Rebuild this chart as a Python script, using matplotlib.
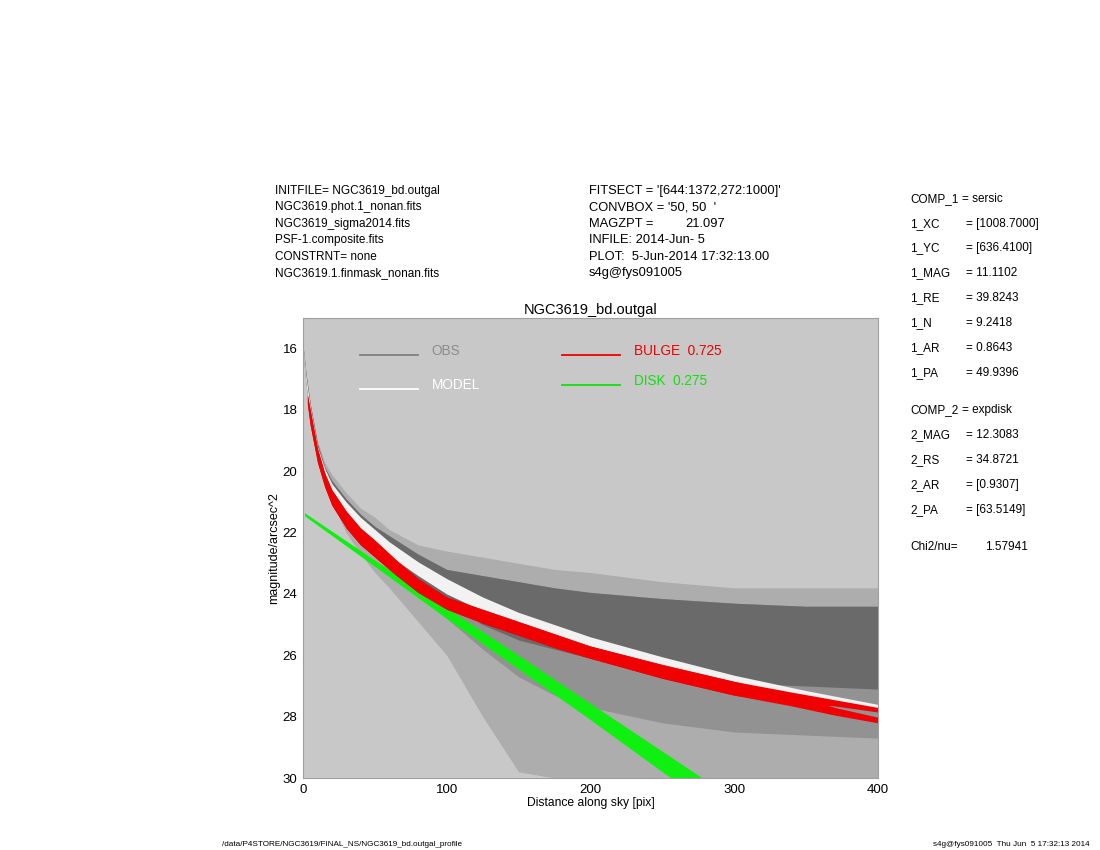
import matplotlib
matplotlib.use("Agg")
import matplotlib.pyplot as plt

plt.rcParams['font.family'] = ['Liberation Sans', 'DejaVu Sans']

# radial samples (pix, mag/arcsec^2)
obs_r = [0, 2, 5, 10, 15, 20, 30, 40, 50, 60, 80, 100, 125, 150, 175, 200, 250, 300, 350, 400]
obs_sparse_hi = [15.9, 16.8, 17.8, 19.0, 19.7, 20.1, 20.7, 21.2, 21.5, 21.9, 22.4, 22.6, 22.8, 23.0, 23.2, 23.3, 23.6, 23.8, 23.8, 23.8]
obs_sparse_lo = [16.1, 17.1, 18.2, 19.5, 20.3, 21.0, 22.0, 22.7, 23.3, 23.8, 24.9, 26.0, 28.0, 29.8, 30.0, 30.0, 30.0, 30.0, 30.0, 30.0]
obs_mid_lo = [16.1, 17.1, 18.2, 19.5, 20.2, 20.8, 21.6, 22.2, 22.7, 23.1, 24.0, 24.8, 25.8, 26.7, 27.3, 27.7, 28.2, 28.5, 28.6, 28.7]
obs_core_hi = [15.9, 16.8, 17.8, 19.1, 19.85, 20.3, 20.9, 21.4, 21.8, 22.1, 22.7, 23.2, 23.4, 23.6, 23.8, 23.95, 24.15, 24.3, 24.4, 24.4]
obs_core_lo = [16.1, 17.1, 18.2, 19.5, 20.2, 20.7, 21.5, 22.0, 22.5, 22.9, 23.6, 24.3, 25.0, 25.5, 25.8, 26.1, 26.5, 26.9, 27.0, 27.1]

model_hi = [15.95, 16.9, 17.9, 19.2, 19.9, 20.4, 21.0, 21.5, 21.9, 22.3, 22.95, 23.5, 24.1, 24.6, 25.0, 25.4, 26.05, 26.65, 27.15, 27.6]
model_lo = [16.1, 17.1, 18.2, 19.5, 20.2, 20.7, 21.4, 21.9, 22.35, 22.75, 23.4, 24.0, 24.55, 25.0, 25.4, 25.7, 26.35, 26.95, 27.4, 27.8]

bulge_r = [3, 5, 10, 15, 20, 30, 40, 50, 65, 80, 100, 125, 150, 175, 200, 250, 300, 340, 370, 400]
bulge_hi = [17.5, 18.0, 19.25, 20.05, 20.6, 21.3, 21.85, 22.25, 22.9, 23.5, 24.1, 24.5, 24.9, 25.3, 25.7, 26.3, 26.85, 27.2, 27.45, 27.7]
bulge_split_a = [17.8, 18.5, 19.7, 20.5, 21.1, 21.85, 22.4, 22.8, 23.4, 23.95, 24.5, 24.95, 25.35, 25.75, 26.1, 26.75, 27.3, 27.55, 27.65, 27.85]
bulge_split_b = [17.5, 18.0, 19.25, 20.05, 20.6, 21.3, 21.85, 22.25, 22.9, 23.5, 24.1, 24.5, 24.9, 25.3, 25.7, 26.3, 26.85, 27.3, 27.7, 28.02]
bulge_lo = [17.8, 18.5, 19.7, 20.5, 21.1, 21.85, 22.4, 22.8, 23.4, 23.95, 24.5, 24.95, 25.35, 25.75, 26.1, 26.75, 27.3, 27.65, 27.95, 28.2]

disk_r = [1, 50, 100, 150, 200, 250, 300]
disk_hi = [21.35, 22.9, 24.45, 26.0, 27.57, 29.13, 30.7]
disk_lo = [21.45, 23.1, 24.8, 26.45, 28.1, 29.8, 31.4]

header_left = ["INITFILE= NGC3619_bd.outgal", "NGC3619.phot.1_nonan.fits", "NGC3619_sigma2014.fits",
               "PSF-1.composite.fits", "CONSTRNT= none", "NGC3619.1.finmask_nonan.fits"]
header_mid = ["FITSECT = '[644:1372,272:1000]'", "CONVBOX = '50, 50  '", "MAGZPT =",
              "INFILE: 2014-Jun- 5", "PLOT:  5-Jun-2014 17:32:13.00", "s4g@fys091005"]
magzpt = "21.097"
comp_names = ["COMP_1", "1_XC", "1_YC", "1_MAG", "1_RE", "1_N", "1_AR", "1_PA",
              "COMP_2", "2_MAG", "2_RS", "2_AR", "2_PA"]
comp_values = ["= sersic", "= [1008.7000]", "= [636.4100]", "= 11.1102", "= 39.8243", "= 9.2418",
               "= 0.8643", "= 49.9396", "= expdisk", "= 12.3083", "= 34.8721", "= [0.9307]", "= [63.5149]"]
chi2nu = "1.57941"

fig = plt.figure(figsize=(11, 8.5), dpi=100)
ax = fig.add_axes([0.2755, 0.0847, 0.5227, 0.5412])
ax.set_facecolor('#c8c8c8')

# observed profile cloud
ax.fill_between(obs_r, obs_sparse_hi, obs_sparse_lo, color='#adadad', lw=0)
ax.fill_between(obs_r, obs_core_hi, obs_mid_lo, color='#929292', lw=0)
ax.fill_between(obs_r, obs_core_hi, obs_core_lo, color='#6a6a6a', lw=0)
# model
ax.fill_between(obs_r, model_hi, model_lo, color='#f2f2f2', lw=0)
# components
ax.fill_between(disk_r, disk_hi, disk_lo, color='#10f010', lw=0)
ax.fill_between(bulge_r, bulge_hi, bulge_split_a, color='#f00000', lw=0)
ax.fill_between(bulge_r, bulge_split_b, bulge_lo, color='#f00000', lw=0)

ax.set_xlim(0, 400)
ax.set_ylim(30, 15)
ax.set_xticks([0, 100, 200, 300, 400])
ax.set_yticks([16, 18, 20, 22, 24, 26, 28, 30])
ax.tick_params(length=0, labelsize=9.5, pad=4)
for s in ax.spines.values():
    s.set_color('#a0a0a0')
    s.set_linewidth(0.8)
ax.set_xlabel("Distance along sky [pix]", fontsize=8.7, labelpad=1)
ax.set_ylabel("magnitude/arcsec^2", fontsize=9, labelpad=2)
ax.set_title("NGC3619_bd.outgal", fontsize=10.5, pad=3)

# legend drawn inside the plot
tr = ax.transAxes
ax.plot([0.099, 0.20], [0.920, 0.920], color='#7f7f7f', lw=1.3, transform=tr)
ax.text(0.224, 0.928, "OBS", color='#8c8c8c', fontsize=9.8, va='center', transform=tr)
ax.plot([0.099, 0.20], [0.846, 0.846], color='white', lw=1.3, transform=tr)
ax.text(0.224, 0.854, "MODEL", color='white', fontsize=9.8, va='center', transform=tr)
ax.plot([0.45, 0.551], [0.920, 0.920], color='#f00000', lw=1.3, transform=tr)
ax.text(0.576, 0.928, "BULGE  0.725", color='#f00000', fontsize=9.8, va='center', transform=tr)
ax.plot([0.45, 0.551], [0.854, 0.854], color='#10e010', lw=1.3, transform=tr)
ax.text(0.576, 0.862, "DISK  0.275", color='#10e010', fontsize=9.8, va='center', transform=tr)

# header text blocks
for i, t in enumerate(header_left):
    fig.text(275 / 1100, 1 - (191 + i * 16.4) / 850, t, fontsize=8.5, va='center')
for i, t in enumerate(header_mid):
    fig.text(589 / 1100, 1 - (191 + i * 16.4) / 850, t, fontsize=9.3, va='center')
fig.text(685 / 1100, 1 - (191 + 2 * 16.4) / 850, magzpt, fontsize=9.3, va='center')

ys = [199, 224, 248, 273, 298, 323, 348, 373, 410, 435, 460, 485, 510]
for name, val, y in zip(comp_names, comp_values, ys):
    xv = 962 if name.startswith("COMP") else 966
    fig.text(910 / 1100, 1 - y / 850, name, fontsize=8.5, va='center')
    fig.text(xv / 1100, 1 - y / 850, val, fontsize=8.5, va='center')
fig.text(910 / 1100, 1 - 547 / 850, "Chi2/nu=", fontsize=8.5, va='center')
fig.text(985 / 1100, 1 - 547 / 850, chi2nu, fontsize=8.5, va='center')

fig.text(222 / 1100, 1 - 845 / 850, "/data/P4STORE/NGC3619/FINAL_NS/NGC3619_bd.outgal_profile",
         fontsize=5.9, va='center')
fig.text(1090 / 1100, 1 - 845 / 850, "s4g@fys091005  Thu Jun  5 17:32:13 2014",
         fontsize=5.9, va='center', ha='right')

fig.savefig("out.png", dpi=100)
